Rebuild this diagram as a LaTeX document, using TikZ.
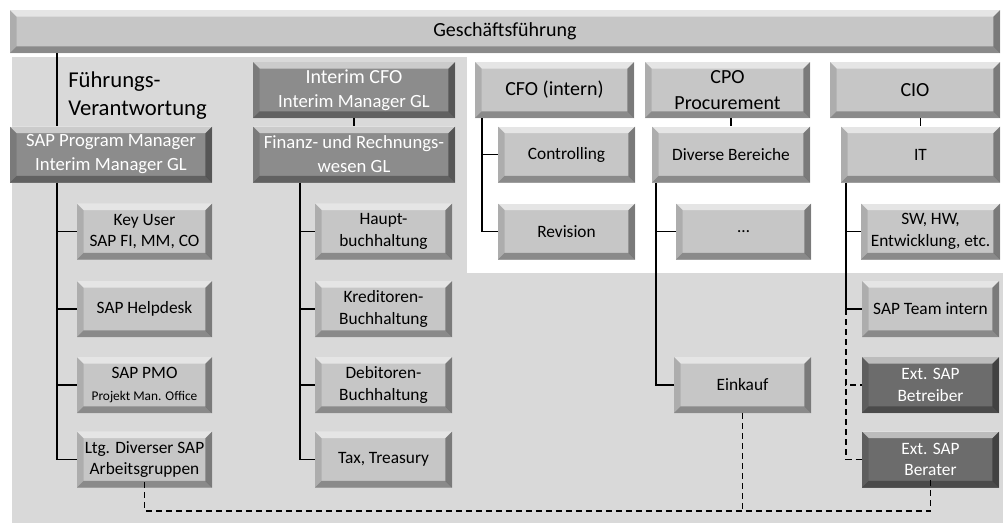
\documentclass[tikz,border=0pt]{standalone}
\usepackage{fontspec}
\setmainfont{Carlito}

\definecolor{bggray}{RGB}{217,217,217}
\definecolor{boxgray}{RGB}{198,198,198}
\definecolor{leadgray}{RGB}{140,140,140}
\definecolor{extgray}{RGB}{108,108,108}

\newlength\pxu \setlength\pxu{0.75pt}
\newcommand{\bevelw}{5pt}

\tikzset{
  bevel/.style={path picture={
    \path (path picture bounding box.north west) coordinate (bnw)
          (path picture bounding box.north east) coordinate (bne)
          (path picture bounding box.south east) coordinate (bse)
          (path picture bounding box.south west) coordinate (bsw);
    \fill[white, opacity=.55] (bnw) -- (bne) -- ([shift={(-\bevelw,-\bevelw)}]bne) -- ([shift={(\bevelw,-\bevelw)}]bnw) -- cycle;
    \fill[black, opacity=.38] (bne) -- (bse) -- ([shift={(-\bevelw,\bevelw)}]bse) -- ([shift={(-\bevelw,-\bevelw)}]bne) -- cycle;
    \fill[black, opacity=.30] (bse) -- (bsw) -- ([shift={(\bevelw,\bevelw)}]bsw) -- ([shift={(-\bevelw,\bevelw)}]bse) -- cycle;
    \fill[black, opacity=.12] (bsw) -- (bnw) -- ([shift={(\bevelw,-\bevelw)}]bnw) -- ([shift={(\bevelw,\bevelw)}]bsw) -- cycle;
  }},
  box/.style={rectangle, fill=boxgray, bevel, inner sep=0pt, minimum height=56\pxu,
    align=center, font=\fontsize{13}{16}\selectfont},
  headbox/.style={box, font=\fontsize{15}{20}\selectfont},
  leadbox/.style={box, fill=leadgray, text=white, font=\fontsize{14}{18}\selectfont},
  extbox/.style={box, fill=extgray, text=white},
  conn/.style={line width=1.1pt},
  dconn/.style={line width=1.1pt, dash pattern=on 4.5pt off 3pt},
}

\begin{document}
\begin{tikzpicture}[x=0.75pt, y=-0.75pt]
  \useasboundingbox (0,0) rectangle (1003,525);
  \fill[white] (0,0) rectangle (1003,525);
  \fill[bggray] (12,57) rectangle (1003,523);
  \fill[white] (467,57) rectangle (1003,273);

  % top line
  \node[headbox, minimum width=990\pxu, minimum height=43\pxu] (gf) at (505,31.5) {Geschäftsführung};
  \node[anchor=north west, inner sep=0pt, align=left, font=\fontsize{17}{21}\selectfont] (fv) at (68,71) {Führungs-\\Verantwortung};

  % SAP program
  \node[leadbox, minimum width=202\pxu] (spm) at (111,154.5) {SAP Program Manager\\Interim Manager GL};
  \node[box, minimum width=135\pxu] (ku)  at (144.5,231.5) {Key User\\SAP FI, MM, CO};
  \node[box, minimum width=135\pxu] (hd)  at (144.5,309)   {SAP Helpdesk};
  \node[box, minimum width=135\pxu] (pmo) at (144.5,385)   {SAP PMO\\{\fontsize{10}{12}\selectfont Projekt Man. Office}};
  \node[box, minimum width=135\pxu] (ltg) at (144.5,459.5) {Ltg. Diverser SAP\\Arbeitsgruppen};

  % finance
  \node[leadbox, minimum width=202\pxu] (icfo) at (354,90) {{\fontsize{15}{18}\selectfont Interim CFO}\\Interim Manager GL};
  \node[leadbox, minimum width=202\pxu] (fin) at (354,154.5) {Finanz- und Rechnungs-\\wesen GL};
  \node[box, minimum width=137\pxu] (hb)  at (383.5,231.5) {Haupt-\\buchhaltung};
  \node[box, minimum width=137\pxu] (kb)  at (383.5,309)   {Kreditoren-\\Buchhaltung};
  \node[box, minimum width=137\pxu] (db)  at (383.5,385)   {Debitoren-\\Buchhaltung};
  \node[box, minimum width=137\pxu] (tax) at (383.5,459.5) {Tax, Treasury};

  % line organisation
  \node[headbox, minimum width=159\pxu] (cfo) at (554.5,90) {CFO (intern)};
  \node[headbox, minimum width=165\pxu] (cpo) at (727.5,90) {CPO\\Procurement};
  \node[headbox, minimum width=170\pxu] (cio) at (915,90)   {CIO};
  \node[box, minimum width=137\pxu] (ctrl) at (566.5,154.5) {Controlling};
  \node[box, minimum width=158\pxu] (dvb)  at (731,154.5)   {Diverse Bereiche};
  \node[box, minimum width=159\pxu] (it)   at (920.5,154.5) {IT};
  \node[box, minimum width=137\pxu] (rev)  at (566.5,231.5) {Revision};
  \node[box, minimum width=135\pxu] (dots) at (743.5,231.5) {…};
  \node[box, minimum width=139\pxu] (sw)   at (930.5,231.5) {SW, HW,\\Entwicklung, etc.};
  \node[box, minimum width=137\pxu] (sapt) at (930.5,309)   {SAP Team intern};
  \node[box, minimum width=137\pxu] (eink) at (742.5,385)   {Einkauf};
  \node[extbox, minimum width=137\pxu] (betr) at (930.5,385)   {Ext. SAP\\Betreiber};
  \node[extbox, minimum width=137\pxu] (ber)  at (930.5,459.5) {Ext. SAP\\Berater};

  % trunks
  \coordinate (ltrunk) at (57,0);
  \coordinate (mtrunk) at (300,0);
  \coordinate (ctrunk) at (482,0);
  \coordinate (ptrunk) at (656,0);
  \coordinate (itrunk) at (846,0);
  \coordinate (bus) at (0,511);

  \draw[conn] (gf.south -| ltrunk) -- (spm.north -| ltrunk);
  \foreach \n in {ku,hd,pmo,ltg}
    \draw[conn] (spm.south -| ltrunk) |- (\n.west);
  \draw[conn] (icfo.south) -- (fin.north);
  \foreach \n in {hb,kb,db,tax}
    \draw[conn] (fin.south -| mtrunk) |- (\n.west);
  \foreach \n in {ctrl,rev}
    \draw[conn] (cfo.south -| ctrunk) |- (\n.west);
  \draw[conn] (dvb.north) -- (dvb.north |- cpo.south);
  \foreach \n in {dots,eink}
    \draw[conn] (dvb.south -| ptrunk) |- (\n.west);
  \draw[conn] (it.north) -- (it.north |- cio.south);
  \foreach \n in {sw,sapt}
    \draw[conn] (it.south -| itrunk) |- (\n.west);

  % external / dotted reporting
  \foreach \n in {betr,ber}
    \draw[dconn] (sapt.west -| itrunk) |- (\n.west);
  \draw[dconn] ([yshift=4pt]ltg.south) |- (bus -| ber) -- ([yshift=7.5pt]ber.south);
  \draw[dconn] (eink.south) -- (eink.south |- bus);
\end{tikzpicture}
\end{document}
